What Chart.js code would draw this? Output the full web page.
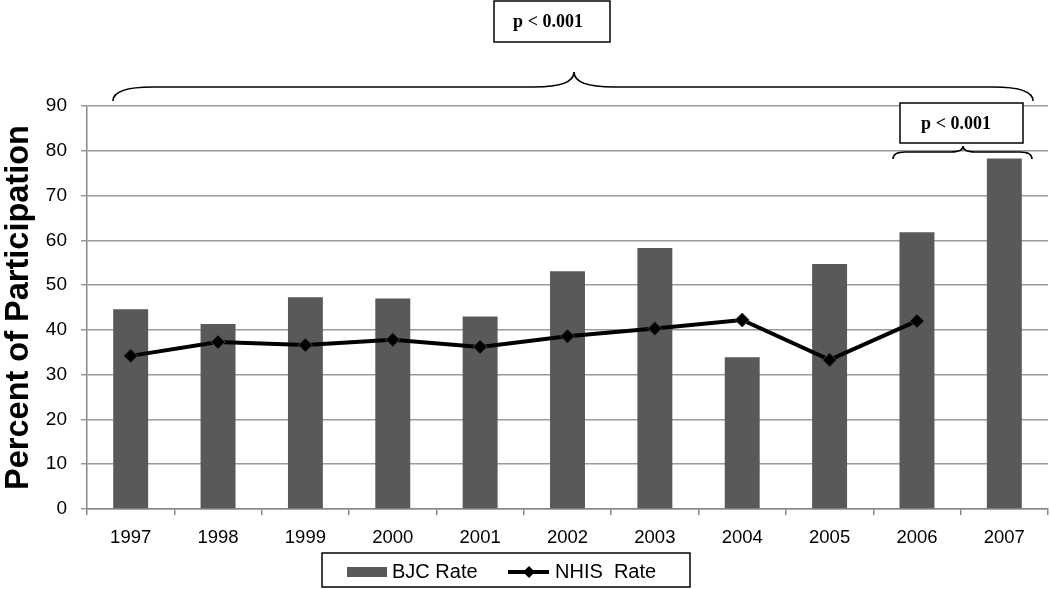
<!DOCTYPE html>
<html>
<head>
<meta charset="utf-8">
<script src="https://cdn.jsdelivr.net/npm/chart.js@4/dist/chart.umd.min.js"></script>
<style>
html,body{margin:0;padding:0;background:#fff;}
#wrap{width:1050px;height:589px;position:relative;}
</style>
</head>
<body>
<div id="wrap"><canvas id="c" width="1050" height="589"></canvas></div>
<script>
const categories = ['1997','1998','1999','2000','2001','2002','2003','2004','2005','2006','2007'];
const bjcRate = [44.6, 41.3, 47.3, 47.0, 43.0, 53.1, 58.3, 33.9, 54.7, 61.8, 78.3];
const nhisRate = [34.2, 37.3, 36.6, 37.8, 36.2, 38.6, 40.3, 42.2, 33.3, 42.0, null];
const seriesLabels = ['BJC Rate', 'NHIS  Rate'];
const yTicks = [0,10,20,30,40,50,60,70,80,90];
const annotationText = 'p < 0.001';

function brace(ctx, x1, x2, yEnd, yMid, yPeak, xPeak, r) {
  ctx.beginPath();
  ctx.moveTo(x1, yEnd);
  ctx.quadraticCurveTo(x1, yMid, x1 + r, yMid);
  ctx.lineTo(xPeak - r, yMid);
  ctx.quadraticCurveTo(xPeak, yMid, xPeak, yPeak);
  ctx.quadraticCurveTo(xPeak, yMid, xPeak + r, yMid);
  ctx.lineTo(x2 - r, yMid);
  ctx.quadraticCurveTo(x2, yMid, x2, yEnd);
  ctx.stroke();
}

const annot = {
  id: 'annot',
  afterDraw(chart) {
    const ctx = chart.ctx;
    ctx.save();
    ctx.strokeStyle = '#000';
    ctx.fillStyle = '#fff';
    ctx.lineWidth = 1.5;
    ctx.fillRect(494, 1, 116, 41);
    ctx.strokeRect(494, 1, 116, 41);
    ctx.fillStyle = '#000';
    ctx.font = 'bold 18px "Liberation Serif", "Times New Roman", serif';
    ctx.textAlign = 'center';
    ctx.textBaseline = 'middle';
    ctx.fillText(annotationText, 548, 22);
    ctx.lineWidth = 1.6;
    brace(ctx, 113, 1033, 101, 87, 72, 574, 40);
    ctx.fillStyle = '#fff';
    ctx.lineWidth = 1.5;
    ctx.fillRect(900, 103, 123, 40);
    ctx.strokeRect(900, 103, 123, 40);
    ctx.fillStyle = '#000';
    ctx.fillText(annotationText, 956, 124);
    ctx.lineWidth = 1.6;
    brace(ctx, 893, 1032, 159, 152, 146, 963, 12);
    ctx.lineWidth = 1.5;
    ctx.strokeStyle = '#000';
    ctx.strokeRect(322, 553, 368, 34);
    ctx.fillStyle = '#595959';
    ctx.fillRect(347, 567, 40, 10);
    ctx.fillStyle = '#000';
    ctx.font = '20px "Liberation Sans", Arial, sans-serif';
    ctx.textAlign = 'left';
    ctx.fillText(seriesLabels[0], 392, 572);
    ctx.lineWidth = 4;
    ctx.beginPath(); ctx.moveTo(508, 572); ctx.lineTo(549, 572); ctx.stroke();
    ctx.beginPath();
    ctx.moveTo(529, 566); ctx.lineTo(535, 572); ctx.lineTo(529, 578); ctx.lineTo(523, 572); ctx.closePath();
    ctx.fill();
    ctx.fillText(seriesLabels[1], 555, 572);
    ctx.restore();
  }
};

new Chart(document.getElementById('c'), {
  data: {
    labels: categories,
    datasets: [
      {
        type: 'line',
        label: seriesLabels[1],
        data: nhisRate,
        borderColor: '#000',
        borderWidth: 4,
        backgroundColor: '#000',
        pointStyle: 'rectRot',
        pointRadius: 7,
        pointBackgroundColor: '#000',
        pointBorderColor: '#444',
        pointBorderWidth: 1,
        tension: 0,
        order: 0
      },
      {
        type: 'bar',
        label: seriesLabels[0],
        data: bjcRate,
        backgroundColor: '#595959',
        borderWidth: 0,
        barPercentage: 0.5,
        categoryPercentage: 0.8,
        order: 1
      }
    ]
  },
  options: {
    responsive: false,
    animation: false,
    layout: { autoPadding: false, padding: { left: 0, right: 2, top: 106, bottom: 0 } },
    plugins: { legend: { display: false }, tooltip: { enabled: false } },
    scales: {
      x: {
        offset: true,
        grid: { display: true, drawOnChartArea: false, drawTicks: true, tickLength: 6, color: '#888', lineWidth: 1.5, offset: true },
        border: { display: true, color: '#888', width: 1.5 },
        ticks: { color: '#000', font: { family: '"Liberation Sans", Arial, sans-serif', size: 18.5 }, padding: 12, maxRotation: 0 },
        afterFit(s) { s.height = 80; s.paddingLeft = 0; s.paddingRight = 0; }
      },
      y: {
        min: 0, max: 90,
        afterBuildTicks(s) { s.ticks = yTicks.map(v => ({ value: v })); },
        grid: { color: '#9a9a9a', lineWidth: 1.5, drawTicks: true, tickLength: 6 },
        border: { display: true, color: '#888', width: 1.5 },
        ticks: { color: '#000', font: { family: '"Liberation Sans", Arial, sans-serif', size: 19 }, padding: 14 },
        title: { display: true, text: 'Percent of Participation', color: '#000', font: { family: '"Liberation Sans", Arial, sans-serif', size: 32.5, weight: 'bold' }, padding: { top: 0, bottom: 0 } },
        afterFit(s) { s.width = 87; }
      }
    }
  },
  plugins: [annot]
});
</script>
</body>
</html>
